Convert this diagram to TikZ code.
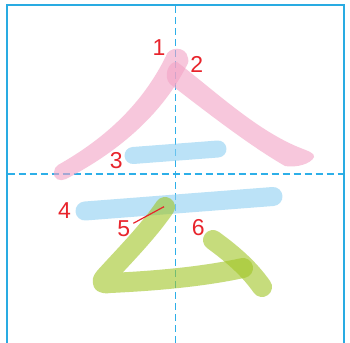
\documentclass[tikz,border=0pt]{standalone}
\usepackage{fontspec}
\setmainfont{Liberation Sans}
\definecolor{frameblue}{RGB}{41,171,226}
\definecolor{dashblue}{RGB}{45,175,232}
\definecolor{pinkc}{RGB}{243,163,197}
\definecolor{bluec}{RGB}{142,208,242}
\definecolor{greenc}{RGB}{160,197,37}
\definecolor{labred}{RGB}{232,36,44}
\begin{document}
\begin{tikzpicture}[x=1pt,y=-1pt,
  framel/.style={frameblue,line width=2pt},
  guide/.style={color=dashblue,draw=dashblue,line width=1.6pt,dash pattern=on 7pt off 4pt},
  dashbit/.style={fill=dashblue},
  brush/.style={line width=#1,line cap=round,line join=round,opacity=0.6},
  inkfill/.style={fill=#1,opacity=0.6},
  lab/.style={labred,font=\fontsize{23}{23}\selectfont,inner sep=0pt}]
\useasboundingbox (0,0) rectangle (350,342);
\fill[white] (0,0) rectangle (350,342);
% frame
\draw[framel] (6.7,343) -- (6.7,5) -- (344.3,5) -- (344.3,343);
% guides
\draw[guide] (7.7,173.7) -- (343.3,173.7);
\foreach \yy in {6,17,...,340} {
  \fill[dashbit] (174.7,\yy) rectangle (176.3,\yy+7);
}
% stroke 1
\path[inkfill=pinkc] (58,165) .. controls (106,138) and (143,103) .. (166,56)
  .. controls (168,47) and (186,45) .. (188,58)
  .. controls (189,62) and (188,64) .. (186,67)
  .. controls (160,117) and (116,153) .. (66,179)
  .. controls (60,182) and (53,179) .. (54,172)
  .. controls (54,169) and (56,166) .. (58,165) -- cycle;
% stroke 2
\path[inkfill=pinkc] (177,62) .. controls (215,91) and (255,129) .. (298,147)
  .. controls (308,151) and (315,153) .. (314,157)
  .. controls (311,164) and (296,168) .. (285,166)
  .. controls (250,146) and (205,111) .. (170,84)
  .. controls (163,77) and (168,61) .. (177,62) -- cycle;
% stroke 3
\draw[bluec,brush=17pt] (133,155.5) -- (218,149);
% stroke 4
\draw[bluec,brush=19pt] (85,211) -- (273,196.5);
% stroke 5
\draw[greenc,brush=20pt] (165,207) .. controls (148,232) and (124,256) .. (105,277)
  .. controls (100,283) and (103,284) .. (110,283)
  .. controls (175,280) and (215,274) .. (243,268);
% stroke 6
\draw[greenc,brush=20pt] (213,240) .. controls (235,256) and (250,270) .. (262,287);
% labels
\node[lab] (l1) at (159,47.5) {1};
\node[lab] (l2) at (196.7,64.3) {2};
\node[lab] (l3) at (116.3,161) {3};
\node[lab] (l4) at (64.5,210.5) {4};
\node[lab] (l5) at (123.7,228.3) {5};
\node[lab] (l6) at (198.3,228) {6};
\coordinate (s5) at (164,206.7);
\coordinate (t5) at (133.3,223.3);
\draw[labred,line width=1.2pt] (t5) -- (s5);
\end{tikzpicture}
\end{document}
